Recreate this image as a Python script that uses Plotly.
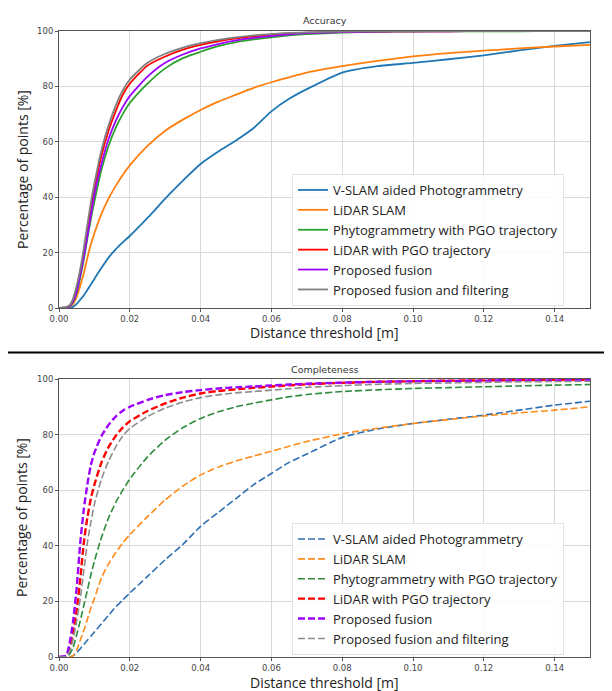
import plotly.graph_objects as go

# ---------------- data ----------------
thresholds = [0.0, 0.002, 0.003, 0.004, 0.005, 0.006, 0.007, 0.008, 0.009, 0.010,
              0.012, 0.014, 0.016, 0.018, 0.020, 0.025, 0.030, 0.035, 0.040, 0.045,
              0.050, 0.055, 0.060, 0.065, 0.070, 0.080, 0.090, 0.100, 0.110, 0.120,
              0.130, 0.140, 0.150]

series_names = ["V-SLAM aided Photogrammetry", "LiDAR SLAM", "Phytogrammetry with PGO trajectory",
                "LiDAR with PGO trajectory", "Proposed fusion", "Proposed fusion and filtering"]

# Accuracy (top)
acc_vslam = [0, 0, 0, 0.5, 1.5, 3, 4.5, 6.5, 8.5, 10.5, 14.5, 18.2, 21.2, 23.7, 26, 32.5, 39.5, 46, 52,
             56.5, 60.5, 65, 71, 75.5, 79, 85, 87.3, 88.5, 89.8, 91.2, 93, 94.6, 96]
acc_lidar = [0, 0, 0.5, 1.5, 4, 8, 12.5, 18, 23, 27, 34, 39.5, 44, 48, 51.5, 58.5, 64, 68, 71.5,
             74.5, 77, 79.5, 81.5, 83.3, 85, 87.3, 89.2, 90.8, 92, 92.9, 93.7, 94.4, 95]
acc_photo_pgo = [0, 0.2, 0.6, 2.2, 5.5, 11, 17.5, 25, 32, 38.5, 50, 58.5, 65, 70, 74, 81, 86.5, 90.2,
                 92.5, 94.5, 96, 97, 97.7, 98.4, 98.9, 99.4, 99.7, 99.8, 99.9, 99.9, 99.9, 100, 100]
acc_lidar_pgo = [0, 0.2, 0.8, 3, 7, 13, 20, 28, 36, 43, 55, 64, 71, 77, 81, 87.5, 90.8, 93.3, 95,
                 96.3, 97.3, 98.1, 98.7, 99.1, 99.4, 99.7, 99.8, 99.9, 99.9, 100, 100, 100, 100]
acc_fusion = [0, 0.2, 0.7, 2.5, 6, 12, 18.5, 26, 33.5, 41, 52, 61, 67.5, 72.5, 76.5, 83.5, 88.5, 91.5,
              93.7, 95.3, 96.6, 97.5, 98.2, 98.8, 99.2, 99.6, 99.8, 99.9, 99.9, 100, 100, 100, 100]
acc_fusion_filt = [0, 0.3, 1, 3.5, 8, 14, 21.5, 30, 38, 45, 57, 66, 73, 78.5, 82.5, 88.5, 91.8, 94,
                   95.6, 96.8, 97.7, 98.4, 98.9, 99.3, 99.5, 99.8, 99.9, 100, 100, 100, 100, 100, 100]

# Completeness (bottom)
comp_vslam = [0, 0, 0, 0.5, 1.5, 3, 4.5, 6, 7.5, 9, 12, 15, 18, 20.5, 23, 29, 35, 40.5, 47, 52, 57,
              62, 66, 70, 73, 79, 82, 84, 85.5, 87, 88.8, 90.6, 92]
comp_lidar = [0, 0, 0, 0.5, 2.5, 6, 9.5, 13.5, 17.5, 21, 28.5, 33.5, 37.5, 41, 44, 50.5, 56.5, 61.5,
              65.5, 68.3, 70.5, 72.3, 74, 75.8, 77.5, 80.3, 82.3, 84, 85.4, 86.7, 87.8, 88.8, 90]
comp_photo_pgo = [0, 0, 1, 3.5, 8, 13, 18.5, 24, 29.5, 34.5, 43, 50, 55.5, 60, 64, 72, 78, 82.5,
                  85.8, 88.2, 90, 91.3, 92.5, 93.6, 94.4, 95.5, 96.1, 96.6, 96.9, 97.2, 97.5, 97.8, 98]
comp_lidar_pgo = [0, 0.3, 3, 9, 17, 28, 41, 50, 57, 62, 70, 75.5, 79.5, 82.5, 84.8, 88.5, 91.2, 93.3,
                  94.8, 95.7, 96.3, 96.8, 97.3, 97.7, 98.1, 98.6, 99, 99.2, 99.4, 99.5, 99.6, 99.7, 99.7]
comp_fusion = [0, 0.5, 5, 13, 25, 41, 53, 62, 69, 73.5, 79.5, 83.5, 86.5, 88.6, 90, 92.5, 94.2, 95.3,
               96, 96.6, 97, 97.3, 97.7, 98, 98.3, 98.7, 99, 99.2, 99.3, 99.4, 99.5, 99.5, 99.6]
comp_fusion_filt = [0, 0.2, 2, 6.5, 13, 21, 31, 41, 48.5, 55, 64, 70.5, 75.5, 79.5, 82.2, 86.5, 89.5,
                    91.7, 93.3, 94.3, 95, 95.5, 96, 96.5, 97, 97.6, 98.1, 98.4, 98.6, 98.8, 99, 99.1, 99.2]

x_tick_vals = [0.0, 0.02, 0.04, 0.06, 0.08, 0.10, 0.12, 0.14]
x_tick_text = ["0.00", "0.02", "0.04", "0.06", "0.08", "0.10", "0.12", "0.14"]
y_tick_vals = [0, 20, 40, 60, 80, 100]

colors = ["#1f77b4", "#ff7f0e", "#2ca02c", "#ff0000", "#9b00ff", "#808080"]
comp_colors = ["#2f6fb0", "#ff8c1a", "#2e8b3e", "#ff0000", "#9b00ff", "#8c8c8c"]

acc_series = [acc_vslam, acc_lidar, acc_photo_pgo, acc_lidar_pgo, acc_fusion, acc_fusion_filt]
comp_series = [comp_vslam, comp_lidar, comp_photo_pgo, comp_lidar_pgo, comp_fusion, comp_fusion_filt]

fig = go.Figure()
for name, ys, c in zip(series_names, acc_series, colors):
    fig.add_trace(go.Scatter(x=thresholds, y=ys, name=name, mode="lines",
                             line=dict(color=c, width=1.8, shape="spline", smoothing=0.6),
                             xaxis="x", yaxis="y", legend="legend"))
comp_widths = [1.6, 1.6, 1.6, 2.4, 2.4, 1.6]
for name, ys, c, w in zip(series_names, comp_series, comp_colors, comp_widths):
    fig.add_trace(go.Scatter(x=thresholds, y=ys, name=name, mode="lines",
                             line=dict(color=c, width=w, dash="7px,3px", shape="spline", smoothing=0.6),
                             xaxis="x2", yaxis="y2", legend="legend2"))

axis_common = dict(showline=True, linecolor="#555555", linewidth=1, mirror=True,
                   showgrid=True, gridcolor="#d9d9d9", gridwidth=1, zeroline=False,
                   ticks="outside", ticklen=3, tickcolor="#555555", automargin=False,
                   tickfont=dict(family="DejaVu Sans", size=8.5, color="#444444"))

# page has an 8px body margin; figure coordinates = page coordinates - 8
W, H = 604, 683
ML, MR, MT, MB = 51, 22, 23, 34
PW = W - ML - MR
PH = H - MT - MB


def px(page_x):
    return (page_x - 8 - ML) / PW


def py(page_y):
    return 1 - (page_y - 8 - MT) / PH


legend_style = dict(xanchor="left", yanchor="bottom", bgcolor="rgba(255,255,255,0.85)",
                    bordercolor="#e3e3e3", borderwidth=1,
                    font=dict(family="Open Sans", size=13, color="#222"),
                    tracegroupgap=0, itemwidth=30)

fig.update_layout(
    width=W, height=H,
    margin=dict(l=ML, r=MR, t=MT, b=MB),
    paper_bgcolor="white", plot_bgcolor="white",
    xaxis=dict(domain=[0, 1], range=[0, 0.15], anchor="y", tickvals=x_tick_vals,
               ticktext=x_tick_text, **axis_common),
    yaxis=dict(domain=[py(308), 1], range=[0, 100], anchor="x", tickvals=y_tick_vals, **axis_common),
    xaxis2=dict(domain=[0, 1], range=[0, 0.15], anchor="y2", tickvals=x_tick_vals,
                ticktext=x_tick_text, **axis_common),
    yaxis2=dict(domain=[0, py(379)], range=[0, 100], anchor="x2", tickvals=y_tick_vals, **axis_common),
    legend=dict(x=px(292), y=py(306), **legend_style),
    legend2=dict(x=px(292), y=py(655), **legend_style),
    showlegend=True,
)

for txt, yp in [("Accuracy", 21), ("Completeness", 369)]:
    fig.add_annotation(text=txt, x=0.5, y=py(yp), xref="paper", yref="paper",
                       xanchor="center", yanchor="middle",
                       showarrow=False, font=dict(family="DejaVu Sans", size=9.5, color="#333"))
for yp in [333, 682]:
    fig.add_annotation(text="Distance threshold [m]", x=0.5, y=py(yp), xref="paper", yref="paper",
                       xanchor="center", yanchor="middle",
                       showarrow=False, font=dict(family="Open Sans", size=14, color="#222"))
for yp in [170, 518]:
    fig.add_annotation(text="Percentage of points [%]", x=px(22), y=py(yp), xref="paper",
                       yref="paper", textangle=-90, showarrow=False,
                       xanchor="center", yanchor="middle",
                       font=dict(family="Open Sans", size=14, color="#222"))

fig.add_shape(type="line", xref="paper", yref="paper", x0=px(7), x1=px(612),
              y0=py(352.5), y1=py(352.5), line=dict(color="black", width=2))

fig.write_html("out.html")
